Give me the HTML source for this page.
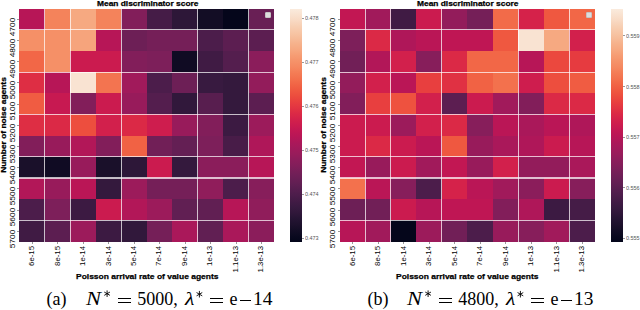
<!DOCTYPE html><html><head><meta charset="utf-8"><style>
html,body{margin:0;padding:0;background:#fff;}
body{width:640px;height:310px;position:relative;overflow:hidden;font-family:"Liberation Sans",sans-serif;}
.a{position:absolute;}
.t{position:absolute;white-space:nowrap;line-height:1;color:#000;}
.o{position:absolute;width:0;height:0;}
.r{position:absolute;left:0;top:0;white-space:nowrap;line-height:1;color:#000;transform-origin:0 0;}
.b{font-weight:bold;-webkit-text-stroke:0.25px #000;}
.s{font-family:"Liberation Serif",serif;}
</style></head><body>
<div class="a" style="left:19.30px;top:8.50px;width:25.87px;height:21.59px;background:#b71657;"></div>
<div class="a" style="left:44.77px;top:8.50px;width:25.87px;height:21.59px;background:#f4835b;"></div>
<div class="a" style="left:70.24px;top:8.50px;width:25.87px;height:21.59px;background:#f6a981;"></div>
<div class="a" style="left:95.71px;top:8.50px;width:25.87px;height:21.59px;background:#f4835b;"></div>
<div class="a" style="left:121.18px;top:8.50px;width:25.87px;height:21.59px;background:#821e5a;"></div>
<div class="a" style="left:146.65px;top:8.50px;width:25.87px;height:21.59px;background:#451c47;"></div>
<div class="a" style="left:172.12px;top:8.50px;width:25.87px;height:21.59px;background:#2d1738;"></div>
<div class="a" style="left:197.59px;top:8.50px;width:25.87px;height:21.59px;background:#130d25;"></div>
<div class="a" style="left:223.06px;top:8.50px;width:25.87px;height:21.59px;background:#05061b;"></div>
<div class="a" style="left:248.53px;top:8.50px;width:25.47px;height:21.59px;background:#691f55;"></div>
<div class="a" style="left:19.30px;top:29.69px;width:25.87px;height:21.59px;background:#f59067;"></div>
<div class="a" style="left:44.77px;top:29.69px;width:25.87px;height:21.59px;background:#f59067;"></div>
<div class="a" style="left:70.24px;top:29.69px;width:25.87px;height:21.59px;background:#f6a47c;"></div>
<div class="a" style="left:95.71px;top:29.69px;width:25.87px;height:21.59px;background:#b71657;"></div>
<div class="a" style="left:121.18px;top:29.69px;width:25.87px;height:21.59px;background:#6d1f56;"></div>
<div class="a" style="left:146.65px;top:29.69px;width:25.87px;height:21.59px;background:#751f58;"></div>
<div class="a" style="left:172.12px;top:29.69px;width:25.87px;height:21.59px;background:#751f58;"></div>
<div class="a" style="left:197.59px;top:29.69px;width:25.87px;height:21.59px;background:#4c1d4b;"></div>
<div class="a" style="left:223.06px;top:29.69px;width:25.87px;height:21.59px;background:#5c1e51;"></div>
<div class="a" style="left:248.53px;top:29.69px;width:25.47px;height:21.59px;background:#5c1e51;"></div>
<div class="a" style="left:19.30px;top:50.88px;width:25.87px;height:21.59px;background:#f26747;"></div>
<div class="a" style="left:44.77px;top:50.88px;width:25.87px;height:21.59px;background:#f59067;"></div>
<div class="a" style="left:70.24px;top:50.88px;width:25.87px;height:21.59px;background:#cb1b4f;"></div>
<div class="a" style="left:95.71px;top:50.88px;width:25.87px;height:21.59px;background:#cb1b4f;"></div>
<div class="a" style="left:121.18px;top:50.88px;width:25.87px;height:21.59px;background:#821e5a;"></div>
<div class="a" style="left:146.65px;top:50.88px;width:25.87px;height:21.59px;background:#7d1f5a;"></div>
<div class="a" style="left:172.12px;top:50.88px;width:25.87px;height:21.59px;background:#100b23;"></div>
<div class="a" style="left:197.59px;top:50.88px;width:25.87px;height:21.59px;background:#401b44;"></div>
<div class="a" style="left:223.06px;top:50.88px;width:25.87px;height:21.59px;background:#541e4e;"></div>
<div class="a" style="left:248.53px;top:50.88px;width:25.47px;height:21.59px;background:#8b1d5b;"></div>
<div class="a" style="left:19.30px;top:72.07px;width:25.87px;height:21.59px;background:#de2e44;"></div>
<div class="a" style="left:44.77px;top:72.07px;width:25.87px;height:21.59px;background:#b71657;"></div>
<div class="a" style="left:70.24px;top:72.07px;width:25.87px;height:21.59px;background:#f9e3d2;"></div>
<div class="a" style="left:95.71px;top:72.07px;width:25.87px;height:21.59px;background:#f37450;"></div>
<div class="a" style="left:121.18px;top:72.07px;width:25.87px;height:21.59px;background:#a11a5b;"></div>
<div class="a" style="left:146.65px;top:72.07px;width:25.87px;height:21.59px;background:#4c1d4b;"></div>
<div class="a" style="left:172.12px;top:72.07px;width:25.87px;height:21.59px;background:#6d1f56;"></div>
<div class="a" style="left:197.59px;top:72.07px;width:25.87px;height:21.59px;background:#381a40;"></div>
<div class="a" style="left:223.06px;top:72.07px;width:25.87px;height:21.59px;background:#34193d;"></div>
<div class="a" style="left:248.53px;top:72.07px;width:25.47px;height:21.59px;background:#931c5b;"></div>
<div class="a" style="left:19.30px;top:93.26px;width:25.87px;height:21.59px;background:#f05c42;"></div>
<div class="a" style="left:44.77px;top:93.26px;width:25.87px;height:21.59px;background:#c71951;"></div>
<div class="a" style="left:70.24px;top:93.26px;width:25.87px;height:21.59px;background:#821e5a;"></div>
<div class="a" style="left:95.71px;top:93.26px;width:25.87px;height:21.59px;background:#cb1b4f;"></div>
<div class="a" style="left:121.18px;top:93.26px;width:25.87px;height:21.59px;background:#981b5b;"></div>
<div class="a" style="left:146.65px;top:93.26px;width:25.87px;height:21.59px;background:#541e4e;"></div>
<div class="a" style="left:172.12px;top:93.26px;width:25.87px;height:21.59px;background:#31183b;"></div>
<div class="a" style="left:197.59px;top:93.26px;width:25.87px;height:21.59px;background:#581e4f;"></div>
<div class="a" style="left:223.06px;top:93.26px;width:25.87px;height:21.59px;background:#34193d;"></div>
<div class="a" style="left:248.53px;top:93.26px;width:25.47px;height:21.59px;background:#5c1e51;"></div>
<div class="a" style="left:19.30px;top:114.45px;width:25.87px;height:21.59px;background:#de2e44;"></div>
<div class="a" style="left:44.77px;top:114.45px;width:25.87px;height:21.59px;background:#db2946;"></div>
<div class="a" style="left:70.24px;top:114.45px;width:25.87px;height:21.59px;background:#ed4e3e;"></div>
<div class="a" style="left:95.71px;top:114.45px;width:25.87px;height:21.59px;background:#d2204c;"></div>
<div class="a" style="left:121.18px;top:114.45px;width:25.87px;height:21.59px;background:#db2946;"></div>
<div class="a" style="left:146.65px;top:114.45px;width:25.87px;height:21.59px;background:#ce1d4e;"></div>
<div class="a" style="left:172.12px;top:114.45px;width:25.87px;height:21.59px;background:#981b5b;"></div>
<div class="a" style="left:197.59px;top:114.45px;width:25.87px;height:21.59px;background:#821e5a;"></div>
<div class="a" style="left:223.06px;top:114.45px;width:25.87px;height:21.59px;background:#3c1a42;"></div>
<div class="a" style="left:248.53px;top:114.45px;width:25.47px;height:21.59px;background:#9c1b5b;"></div>
<div class="a" style="left:19.30px;top:135.65px;width:25.87px;height:21.59px;background:#821e5a;"></div>
<div class="a" style="left:44.77px;top:135.65px;width:25.87px;height:21.59px;background:#981b5b;"></div>
<div class="a" style="left:70.24px;top:135.65px;width:25.87px;height:21.59px;background:#b21758;"></div>
<div class="a" style="left:95.71px;top:135.65px;width:25.87px;height:21.59px;background:#821e5a;"></div>
<div class="a" style="left:121.18px;top:135.65px;width:25.87px;height:21.59px;background:#f16244;"></div>
<div class="a" style="left:146.65px;top:135.65px;width:25.87px;height:21.59px;background:#711f57;"></div>
<div class="a" style="left:172.12px;top:135.65px;width:25.87px;height:21.59px;background:#641f54;"></div>
<div class="a" style="left:197.59px;top:135.65px;width:25.87px;height:21.59px;background:#7d1f5a;"></div>
<div class="a" style="left:223.06px;top:135.65px;width:25.87px;height:21.59px;background:#481c48;"></div>
<div class="a" style="left:248.53px;top:135.65px;width:25.47px;height:21.59px;background:#af1759;"></div>
<div class="a" style="left:19.30px;top:156.84px;width:25.87px;height:21.59px;background:#1a102a;"></div>
<div class="a" style="left:44.77px;top:156.84px;width:25.87px;height:21.59px;background:#100b23;"></div>
<div class="a" style="left:70.24px;top:156.84px;width:25.87px;height:21.59px;background:#981b5b;"></div>
<div class="a" style="left:95.71px;top:156.84px;width:25.87px;height:21.59px;background:#1a102a;"></div>
<div class="a" style="left:121.18px;top:156.84px;width:25.87px;height:21.59px;background:#2d1738;"></div>
<div class="a" style="left:146.65px;top:156.84px;width:25.87px;height:21.59px;background:#cb1b4f;"></div>
<div class="a" style="left:172.12px;top:156.84px;width:25.87px;height:21.59px;background:#34193d;"></div>
<div class="a" style="left:197.59px;top:156.84px;width:25.87px;height:21.59px;background:#8b1d5b;"></div>
<div class="a" style="left:223.06px;top:156.84px;width:25.87px;height:21.59px;background:#8b1d5b;"></div>
<div class="a" style="left:248.53px;top:156.84px;width:25.47px;height:21.59px;background:#b71657;"></div>
<div class="a" style="left:19.30px;top:178.03px;width:25.87px;height:21.59px;background:#b21758;"></div>
<div class="a" style="left:44.77px;top:178.03px;width:25.87px;height:21.59px;background:#981b5b;"></div>
<div class="a" style="left:70.24px;top:178.03px;width:25.87px;height:21.59px;background:#ba1656;"></div>
<div class="a" style="left:95.71px;top:178.03px;width:25.87px;height:21.59px;background:#34193d;"></div>
<div class="a" style="left:121.18px;top:178.03px;width:25.87px;height:21.59px;background:#9c1b5b;"></div>
<div class="a" style="left:146.65px;top:178.03px;width:25.87px;height:21.59px;background:#751f58;"></div>
<div class="a" style="left:172.12px;top:178.03px;width:25.87px;height:21.59px;background:#751f58;"></div>
<div class="a" style="left:197.59px;top:178.03px;width:25.87px;height:21.59px;background:#901d5b;"></div>
<div class="a" style="left:223.06px;top:178.03px;width:25.87px;height:21.59px;background:#4c1d4b;"></div>
<div class="a" style="left:248.53px;top:178.03px;width:25.47px;height:21.59px;background:#871e5b;"></div>
<div class="a" style="left:19.30px;top:199.22px;width:25.87px;height:21.59px;background:#4c1d4b;"></div>
<div class="a" style="left:44.77px;top:199.22px;width:25.87px;height:21.59px;background:#7d1f5a;"></div>
<div class="a" style="left:70.24px;top:199.22px;width:25.87px;height:21.59px;background:#3c1a42;"></div>
<div class="a" style="left:95.71px;top:199.22px;width:25.87px;height:21.59px;background:#cb1b4f;"></div>
<div class="a" style="left:121.18px;top:199.22px;width:25.87px;height:21.59px;background:#b21758;"></div>
<div class="a" style="left:146.65px;top:199.22px;width:25.87px;height:21.59px;background:#9c1b5b;"></div>
<div class="a" style="left:172.12px;top:199.22px;width:25.87px;height:21.59px;background:#611f53;"></div>
<div class="a" style="left:197.59px;top:199.22px;width:25.87px;height:21.59px;background:#611f53;"></div>
<div class="a" style="left:223.06px;top:199.22px;width:25.87px;height:21.59px;background:#b71657;"></div>
<div class="a" style="left:248.53px;top:199.22px;width:25.47px;height:21.59px;background:#901d5b;"></div>
<div class="a" style="left:19.30px;top:220.41px;width:25.87px;height:21.19px;background:#401b44;"></div>
<div class="a" style="left:44.77px;top:220.41px;width:25.87px;height:21.19px;background:#5c1e51;"></div>
<div class="a" style="left:70.24px;top:220.41px;width:25.87px;height:21.19px;background:#9c1b5b;"></div>
<div class="a" style="left:95.71px;top:220.41px;width:25.87px;height:21.19px;background:#3c1a42;"></div>
<div class="a" style="left:121.18px;top:220.41px;width:25.87px;height:21.19px;background:#31183b;"></div>
<div class="a" style="left:146.65px;top:220.41px;width:25.87px;height:21.19px;background:#751f58;"></div>
<div class="a" style="left:172.12px;top:220.41px;width:25.87px;height:21.19px;background:#aa185a;"></div>
<div class="a" style="left:197.59px;top:220.41px;width:25.87px;height:21.19px;background:#611f53;"></div>
<div class="a" style="left:223.06px;top:220.41px;width:25.87px;height:21.19px;background:#aa185a;"></div>
<div class="a" style="left:248.53px;top:220.41px;width:25.47px;height:21.19px;background:#8b1d5b;"></div>
<div class="a" style="left:44.22px;top:8.50px;width:1.10px;height:233.10px;background:rgba(255,255,255,0.72);"></div>
<div class="a" style="left:69.69px;top:8.50px;width:1.10px;height:233.10px;background:rgba(255,255,255,0.72);"></div>
<div class="a" style="left:120.63px;top:8.50px;width:1.10px;height:233.10px;background:rgba(255,255,255,0.72);"></div>
<div class="a" style="left:197.04px;top:8.50px;width:1.10px;height:233.10px;background:rgba(255,255,255,0.72);"></div>
<div class="a" style="left:247.98px;top:8.50px;width:1.10px;height:233.10px;background:rgba(255,255,255,0.72);"></div>
<div class="a" style="left:19.30px;top:29.14px;width:254.70px;height:1.10px;background:rgba(255,255,255,0.72);"></div>
<div class="a" style="left:19.30px;top:71.52px;width:254.70px;height:1.10px;background:rgba(255,255,255,0.72);"></div>
<div class="a" style="left:19.30px;top:113.90px;width:254.70px;height:1.10px;background:rgba(255,255,255,0.72);"></div>
<div class="a" style="left:19.30px;top:156.29px;width:254.70px;height:1.10px;background:rgba(255,255,255,0.72);"></div>
<div class="a" style="left:19.30px;top:177.48px;width:254.70px;height:1.10px;background:rgba(255,255,255,0.72);"></div>
<div class="a" style="left:19.30px;top:219.86px;width:254.70px;height:1.10px;background:rgba(255,255,255,0.72);"></div>
<div class="a" style="left:265.10px;top:11.90px;width:6.00px;height:6.40px;background:#dddddd;border-radius:1px;box-sizing:border-box;border:0.6px solid #c4c4c4"></div>
<div class="a" style="left:290.30px;top:8.50px;width:11.70px;height:233.10px;background:linear-gradient(to bottom,#faebdd 0.0%,#f9e2d0 2.5%,#f8d9c3 5.0%,#f7cfb3 7.5%,#f7c6a6 10.0%,#f6bc99 12.5%,#f6b18b 15.0%,#f6a880 17.5%,#f69c73 20.0%,#f59269 22.5%,#f58860 25.0%,#f47c55 27.5%,#f3714d 30.0%,#f16445 32.5%,#ef5840 35.0%,#ec4c3e 37.5%,#e83f3f 40.0%,#e23442 42.5%,#db2946 45.0%,#d3214b 47.5%,#cb1b4f 50.0%,#c11754 52.5%,#b71657 55.0%,#ab185a 57.5%,#a11a5b 60.0%,#971c5b 62.5%,#8b1d5b 65.0%,#811e5a 67.5%,#751f58 70.0%,#6b1f56 72.5%,#611f53 75.0%,#561e4f 77.5%,#4c1d4b 80.0%,#421b45 82.5%,#381a40 85.0%,#30173a 87.5%,#251433 90.0%,#1d112c 92.5%,#130d25 95.0%,#0a091f 97.5%,#03051a 100.0%);"></div>
<div class="a" style="left:302.00px;top:17.70px;width:2.00px;height:0.60px;background:#999;"></div>
<div class="t " style="left:305.20px;top:16.19px;font-size:5.20px;color:#555;transform:scaleX(1.050);transform-origin:0 0">0.478</div>
<div class="a" style="left:302.00px;top:61.70px;width:2.00px;height:0.60px;background:#999;"></div>
<div class="t " style="left:305.20px;top:60.19px;font-size:5.20px;color:#555;transform:scaleX(1.050);transform-origin:0 0">0.477</div>
<div class="a" style="left:302.00px;top:105.70px;width:2.00px;height:0.60px;background:#999;"></div>
<div class="t " style="left:305.20px;top:104.19px;font-size:5.20px;color:#555;transform:scaleX(1.050);transform-origin:0 0">0.476</div>
<div class="a" style="left:302.00px;top:149.70px;width:2.00px;height:0.60px;background:#999;"></div>
<div class="t " style="left:305.20px;top:148.19px;font-size:5.20px;color:#555;transform:scaleX(1.050);transform-origin:0 0">0.475</div>
<div class="a" style="left:302.00px;top:193.70px;width:2.00px;height:0.60px;background:#999;"></div>
<div class="t " style="left:305.20px;top:192.19px;font-size:5.20px;color:#555;transform:scaleX(1.050);transform-origin:0 0">0.474</div>
<div class="a" style="left:302.00px;top:237.70px;width:2.00px;height:0.60px;background:#999;"></div>
<div class="t " style="left:305.20px;top:236.19px;font-size:5.20px;color:#555;transform:scaleX(1.050);transform-origin:0 0">0.473</div>
<div class="a" style="left:17.30px;top:18.80px;width:2.00px;height:0.60px;background:#999;"></div>
<div class="o" style="left:8.57px;top:26.70px"><div class="r " style="font-size:7.60px;color:#000;transform:rotate(-90deg) scaleX(1.100) translateX(-50%)">4700</div></div>
<div class="a" style="left:17.30px;top:39.99px;width:2.00px;height:0.60px;background:#999;"></div>
<div class="o" style="left:8.57px;top:47.89px"><div class="r " style="font-size:7.60px;color:#000;transform:rotate(-90deg) scaleX(1.100) translateX(-50%)">4800</div></div>
<div class="a" style="left:17.30px;top:61.18px;width:2.00px;height:0.60px;background:#999;"></div>
<div class="o" style="left:8.57px;top:69.08px"><div class="r " style="font-size:7.60px;color:#000;transform:rotate(-90deg) scaleX(1.100) translateX(-50%)">4900</div></div>
<div class="a" style="left:17.30px;top:82.37px;width:2.00px;height:0.60px;background:#999;"></div>
<div class="o" style="left:8.57px;top:90.27px"><div class="r " style="font-size:7.60px;color:#000;transform:rotate(-90deg) scaleX(1.100) translateX(-50%)">5000</div></div>
<div class="a" style="left:17.30px;top:103.56px;width:2.00px;height:0.60px;background:#999;"></div>
<div class="o" style="left:8.57px;top:111.46px"><div class="r " style="font-size:7.60px;color:#000;transform:rotate(-90deg) scaleX(1.100) translateX(-50%)">5100</div></div>
<div class="a" style="left:17.30px;top:124.75px;width:2.00px;height:0.60px;background:#999;"></div>
<div class="o" style="left:8.57px;top:132.65px"><div class="r " style="font-size:7.60px;color:#000;transform:rotate(-90deg) scaleX(1.100) translateX(-50%)">5200</div></div>
<div class="a" style="left:17.30px;top:145.94px;width:2.00px;height:0.60px;background:#999;"></div>
<div class="o" style="left:8.57px;top:153.84px"><div class="r " style="font-size:7.60px;color:#000;transform:rotate(-90deg) scaleX(1.100) translateX(-50%)">5300</div></div>
<div class="a" style="left:17.30px;top:167.13px;width:2.00px;height:0.60px;background:#999;"></div>
<div class="o" style="left:8.57px;top:175.03px"><div class="r " style="font-size:7.60px;color:#000;transform:rotate(-90deg) scaleX(1.100) translateX(-50%)">5400</div></div>
<div class="a" style="left:17.30px;top:188.32px;width:2.00px;height:0.60px;background:#999;"></div>
<div class="o" style="left:8.57px;top:196.22px"><div class="r " style="font-size:7.60px;color:#000;transform:rotate(-90deg) scaleX(1.100) translateX(-50%)">5500</div></div>
<div class="a" style="left:17.30px;top:209.51px;width:2.00px;height:0.60px;background:#999;"></div>
<div class="o" style="left:8.57px;top:217.41px"><div class="r " style="font-size:7.60px;color:#000;transform:rotate(-90deg) scaleX(1.100) translateX(-50%)">5600</div></div>
<div class="a" style="left:17.30px;top:230.70px;width:2.00px;height:0.60px;background:#999;"></div>
<div class="o" style="left:8.57px;top:238.60px"><div class="r " style="font-size:7.60px;color:#000;transform:rotate(-90deg) scaleX(1.100) translateX(-50%)">5700</div></div>
<div class="a" style="left:31.73px;top:241.60px;width:0.60px;height:2.00px;background:#999;"></div>
<div class="o" style="left:28.12px;top:246.40px"><div class="r " style="font-size:7.80px;color:#000;transform:rotate(-90deg) scaleX(1.000) translateX(-100%)">6e-15</div></div>
<div class="a" style="left:57.20px;top:241.60px;width:0.60px;height:2.00px;background:#999;"></div>
<div class="o" style="left:53.59px;top:246.40px"><div class="r " style="font-size:7.80px;color:#000;transform:rotate(-90deg) scaleX(1.000) translateX(-100%)">8e-15</div></div>
<div class="a" style="left:82.67px;top:241.60px;width:0.60px;height:2.00px;background:#999;"></div>
<div class="o" style="left:79.06px;top:246.40px"><div class="r " style="font-size:7.80px;color:#000;transform:rotate(-90deg) scaleX(1.000) translateX(-100%)">1e-14</div></div>
<div class="a" style="left:108.14px;top:241.60px;width:0.60px;height:2.00px;background:#999;"></div>
<div class="o" style="left:104.53px;top:246.40px"><div class="r " style="font-size:7.80px;color:#000;transform:rotate(-90deg) scaleX(1.000) translateX(-100%)">3e-14</div></div>
<div class="a" style="left:133.61px;top:241.60px;width:0.60px;height:2.00px;background:#999;"></div>
<div class="o" style="left:130.00px;top:246.40px"><div class="r " style="font-size:7.80px;color:#000;transform:rotate(-90deg) scaleX(1.000) translateX(-100%)">5e-14</div></div>
<div class="a" style="left:159.08px;top:241.60px;width:0.60px;height:2.00px;background:#999;"></div>
<div class="o" style="left:155.47px;top:246.40px"><div class="r " style="font-size:7.80px;color:#000;transform:rotate(-90deg) scaleX(1.000) translateX(-100%)">7e-14</div></div>
<div class="a" style="left:184.56px;top:241.60px;width:0.60px;height:2.00px;background:#999;"></div>
<div class="o" style="left:180.94px;top:246.40px"><div class="r " style="font-size:7.80px;color:#000;transform:rotate(-90deg) scaleX(1.000) translateX(-100%)">9e-14</div></div>
<div class="a" style="left:210.02px;top:241.60px;width:0.60px;height:2.00px;background:#999;"></div>
<div class="o" style="left:206.41px;top:246.40px"><div class="r " style="font-size:7.80px;color:#000;transform:rotate(-90deg) scaleX(1.000) translateX(-100%)">1e-13</div></div>
<div class="a" style="left:235.50px;top:241.60px;width:0.60px;height:2.00px;background:#999;"></div>
<div class="o" style="left:231.88px;top:246.40px"><div class="r " style="font-size:7.80px;color:#000;transform:rotate(-90deg) scaleX(1.000) translateX(-100%)">1.1e-13</div></div>
<div class="a" style="left:260.96px;top:241.60px;width:0.60px;height:2.00px;background:#999;"></div>
<div class="o" style="left:257.35px;top:246.40px"><div class="r " style="font-size:7.80px;color:#000;transform:rotate(-90deg) scaleX(1.000) translateX(-100%)">1.3e-13</div></div>
<div class="t b" style="left:96.50px;top:-0.45px;font-size:7.50px;transform:scaleX(1.116);transform-origin:0 0">Mean discriminator score</div>
<div class="t b" style="left:75.60px;top:273.45px;font-size:7.50px;transform:scaleX(1.128);transform-origin:0 0">Poisson arrival rate of value agents</div>
<div class="o" style="left:-0.45px;top:124.65px"><div class="r b" style="font-size:7.50px;color:#000;transform:rotate(-90deg) scaleX(1.120) translateX(-50%)">Number of noise agents</div></div>
<div class="a" style="left:340.00px;top:8.50px;width:25.87px;height:21.59px;background:#c21753;"></div>
<div class="a" style="left:365.47px;top:8.50px;width:25.87px;height:21.59px;background:#a11a5b;"></div>
<div class="a" style="left:390.94px;top:8.50px;width:25.87px;height:21.59px;background:#401b44;"></div>
<div class="a" style="left:416.41px;top:8.50px;width:25.87px;height:21.59px;background:#cb1b4f;"></div>
<div class="a" style="left:441.88px;top:8.50px;width:25.87px;height:21.59px;background:#931c5b;"></div>
<div class="a" style="left:467.35px;top:8.50px;width:25.87px;height:21.59px;background:#751f58;"></div>
<div class="a" style="left:492.82px;top:8.50px;width:25.87px;height:21.59px;background:#f26b49;"></div>
<div class="a" style="left:518.29px;top:8.50px;width:25.87px;height:21.59px;background:#d5224a;"></div>
<div class="a" style="left:543.76px;top:8.50px;width:25.87px;height:21.59px;background:#ef5840;"></div>
<div class="a" style="left:569.23px;top:8.50px;width:25.47px;height:21.59px;background:#f26747;"></div>
<div class="a" style="left:340.00px;top:29.69px;width:25.87px;height:21.59px;background:#7d1f5a;"></div>
<div class="a" style="left:365.47px;top:29.69px;width:25.87px;height:21.59px;background:#db2946;"></div>
<div class="a" style="left:390.94px;top:29.69px;width:25.87px;height:21.59px;background:#af1759;"></div>
<div class="a" style="left:416.41px;top:29.69px;width:25.87px;height:21.59px;background:#ba1656;"></div>
<div class="a" style="left:441.88px;top:29.69px;width:25.87px;height:21.59px;background:#bf1654;"></div>
<div class="a" style="left:467.35px;top:29.69px;width:25.87px;height:21.59px;background:#bf1654;"></div>
<div class="a" style="left:492.82px;top:29.69px;width:25.87px;height:21.59px;background:#ef5840;"></div>
<div class="a" style="left:518.29px;top:29.69px;width:25.87px;height:21.59px;background:#f9e3d2;"></div>
<div class="a" style="left:543.76px;top:29.69px;width:25.87px;height:21.59px;background:#f6a981;"></div>
<div class="a" style="left:569.23px;top:29.69px;width:25.47px;height:21.59px;background:#d2204c;"></div>
<div class="a" style="left:340.00px;top:50.88px;width:25.87px;height:21.59px;background:#711f57;"></div>
<div class="a" style="left:365.47px;top:50.88px;width:25.87px;height:21.59px;background:#b21758;"></div>
<div class="a" style="left:390.94px;top:50.88px;width:25.87px;height:21.59px;background:#d2204c;"></div>
<div class="a" style="left:416.41px;top:50.88px;width:25.87px;height:21.59px;background:#871e5b;"></div>
<div class="a" style="left:441.88px;top:50.88px;width:25.87px;height:21.59px;background:#db2946;"></div>
<div class="a" style="left:467.35px;top:50.88px;width:25.87px;height:21.59px;background:#f26747;"></div>
<div class="a" style="left:492.82px;top:50.88px;width:25.87px;height:21.59px;background:#f26747;"></div>
<div class="a" style="left:518.29px;top:50.88px;width:25.87px;height:21.59px;background:#b71657;"></div>
<div class="a" style="left:543.76px;top:50.88px;width:25.87px;height:21.59px;background:#eb483e;"></div>
<div class="a" style="left:569.23px;top:50.88px;width:25.47px;height:21.59px;background:#e63b40;"></div>
<div class="a" style="left:340.00px;top:72.07px;width:25.87px;height:21.59px;background:#931c5b;"></div>
<div class="a" style="left:365.47px;top:72.07px;width:25.87px;height:21.59px;background:#d2204c;"></div>
<div class="a" style="left:390.94px;top:72.07px;width:25.87px;height:21.59px;background:#ba1656;"></div>
<div class="a" style="left:416.41px;top:72.07px;width:25.87px;height:21.59px;background:#e83f3f;"></div>
<div class="a" style="left:441.88px;top:72.07px;width:25.87px;height:21.59px;background:#e03143;"></div>
<div class="a" style="left:467.35px;top:72.07px;width:25.87px;height:21.59px;background:#f16244;"></div>
<div class="a" style="left:492.82px;top:72.07px;width:25.87px;height:21.59px;background:#f3714d;"></div>
<div class="a" style="left:518.29px;top:72.07px;width:25.87px;height:21.59px;background:#ce1d4e;"></div>
<div class="a" style="left:543.76px;top:72.07px;width:25.87px;height:21.59px;background:#ed4e3e;"></div>
<div class="a" style="left:569.23px;top:72.07px;width:25.47px;height:21.59px;background:#f05c42;"></div>
<div class="a" style="left:340.00px;top:93.26px;width:25.87px;height:21.59px;background:#821e5a;"></div>
<div class="a" style="left:365.47px;top:93.26px;width:25.87px;height:21.59px;background:#e83f3f;"></div>
<div class="a" style="left:390.94px;top:93.26px;width:25.87px;height:21.59px;background:#ee523f;"></div>
<div class="a" style="left:416.41px;top:93.26px;width:25.87px;height:21.59px;background:#d2204c;"></div>
<div class="a" style="left:441.88px;top:93.26px;width:25.87px;height:21.59px;background:#5c1e51;"></div>
<div class="a" style="left:467.35px;top:93.26px;width:25.87px;height:21.59px;background:#cb1b4f;"></div>
<div class="a" style="left:492.82px;top:93.26px;width:25.87px;height:21.59px;background:#a11a5b;"></div>
<div class="a" style="left:518.29px;top:93.26px;width:25.87px;height:21.59px;background:#821e5a;"></div>
<div class="a" style="left:543.76px;top:93.26px;width:25.87px;height:21.59px;background:#db2946;"></div>
<div class="a" style="left:569.23px;top:93.26px;width:25.47px;height:21.59px;background:#db2946;"></div>
<div class="a" style="left:340.00px;top:114.45px;width:25.87px;height:21.59px;background:#cb1b4f;"></div>
<div class="a" style="left:365.47px;top:114.45px;width:25.87px;height:21.59px;background:#cb1b4f;"></div>
<div class="a" style="left:390.94px;top:114.45px;width:25.87px;height:21.59px;background:#9c1b5b;"></div>
<div class="a" style="left:416.41px;top:114.45px;width:25.87px;height:21.59px;background:#d2204c;"></div>
<div class="a" style="left:441.88px;top:114.45px;width:25.87px;height:21.59px;background:#db2946;"></div>
<div class="a" style="left:467.35px;top:114.45px;width:25.87px;height:21.59px;background:#871e5b;"></div>
<div class="a" style="left:492.82px;top:114.45px;width:25.87px;height:21.59px;background:#ba1656;"></div>
<div class="a" style="left:518.29px;top:114.45px;width:25.87px;height:21.59px;background:#aa185a;"></div>
<div class="a" style="left:543.76px;top:114.45px;width:25.87px;height:21.59px;background:#ba1656;"></div>
<div class="a" style="left:569.23px;top:114.45px;width:25.47px;height:21.59px;background:#af1759;"></div>
<div class="a" style="left:340.00px;top:135.65px;width:25.87px;height:21.59px;background:#cb1b4f;"></div>
<div class="a" style="left:365.47px;top:135.65px;width:25.87px;height:21.59px;background:#db2946;"></div>
<div class="a" style="left:390.94px;top:135.65px;width:25.87px;height:21.59px;background:#cb1b4f;"></div>
<div class="a" style="left:416.41px;top:135.65px;width:25.87px;height:21.59px;background:#ba1656;"></div>
<div class="a" style="left:441.88px;top:135.65px;width:25.87px;height:21.59px;background:#ef5840;"></div>
<div class="a" style="left:467.35px;top:135.65px;width:25.87px;height:21.59px;background:#981b5b;"></div>
<div class="a" style="left:492.82px;top:135.65px;width:25.87px;height:21.59px;background:#aa185a;"></div>
<div class="a" style="left:518.29px;top:135.65px;width:25.87px;height:21.59px;background:#af1759;"></div>
<div class="a" style="left:543.76px;top:135.65px;width:25.87px;height:21.59px;background:#cb1b4f;"></div>
<div class="a" style="left:569.23px;top:135.65px;width:25.47px;height:21.59px;background:#b71657;"></div>
<div class="a" style="left:340.00px;top:156.84px;width:25.87px;height:21.59px;background:#c21753;"></div>
<div class="a" style="left:365.47px;top:156.84px;width:25.87px;height:21.59px;background:#981b5b;"></div>
<div class="a" style="left:390.94px;top:156.84px;width:25.87px;height:21.59px;background:#cb1b4f;"></div>
<div class="a" style="left:416.41px;top:156.84px;width:25.87px;height:21.59px;background:#a11a5b;"></div>
<div class="a" style="left:441.88px;top:156.84px;width:25.87px;height:21.59px;background:#c21753;"></div>
<div class="a" style="left:467.35px;top:156.84px;width:25.87px;height:21.59px;background:#981b5b;"></div>
<div class="a" style="left:492.82px;top:156.84px;width:25.87px;height:21.59px;background:#d2204c;"></div>
<div class="a" style="left:518.29px;top:156.84px;width:25.87px;height:21.59px;background:#931c5b;"></div>
<div class="a" style="left:543.76px;top:156.84px;width:25.87px;height:21.59px;background:#931c5b;"></div>
<div class="a" style="left:569.23px;top:156.84px;width:25.47px;height:21.59px;background:#aa185a;"></div>
<div class="a" style="left:340.00px;top:178.03px;width:25.87px;height:21.59px;background:#f3714d;"></div>
<div class="a" style="left:365.47px;top:178.03px;width:25.87px;height:21.59px;background:#ba1656;"></div>
<div class="a" style="left:390.94px;top:178.03px;width:25.87px;height:21.59px;background:#871e5b;"></div>
<div class="a" style="left:416.41px;top:178.03px;width:25.87px;height:21.59px;background:#4c1d4b;"></div>
<div class="a" style="left:441.88px;top:178.03px;width:25.87px;height:21.59px;background:#d5224a;"></div>
<div class="a" style="left:467.35px;top:178.03px;width:25.87px;height:21.59px;background:#ba1656;"></div>
<div class="a" style="left:492.82px;top:178.03px;width:25.87px;height:21.59px;background:#a11a5b;"></div>
<div class="a" style="left:518.29px;top:178.03px;width:25.87px;height:21.59px;background:#8b1d5b;"></div>
<div class="a" style="left:543.76px;top:178.03px;width:25.87px;height:21.59px;background:#cb1b4f;"></div>
<div class="a" style="left:569.23px;top:178.03px;width:25.47px;height:21.59px;background:#871e5b;"></div>
<div class="a" style="left:340.00px;top:199.22px;width:25.87px;height:21.59px;background:#6d1f56;"></div>
<div class="a" style="left:365.47px;top:199.22px;width:25.87px;height:21.59px;background:#711f57;"></div>
<div class="a" style="left:390.94px;top:199.22px;width:25.87px;height:21.59px;background:#cb1b4f;"></div>
<div class="a" style="left:416.41px;top:199.22px;width:25.87px;height:21.59px;background:#b71657;"></div>
<div class="a" style="left:441.88px;top:199.22px;width:25.87px;height:21.59px;background:#bf1654;"></div>
<div class="a" style="left:467.35px;top:199.22px;width:25.87px;height:21.59px;background:#bf1654;"></div>
<div class="a" style="left:492.82px;top:199.22px;width:25.87px;height:21.59px;background:#821e5a;"></div>
<div class="a" style="left:518.29px;top:199.22px;width:25.87px;height:21.59px;background:#af1759;"></div>
<div class="a" style="left:543.76px;top:199.22px;width:25.87px;height:21.59px;background:#3c1a42;"></div>
<div class="a" style="left:569.23px;top:199.22px;width:25.47px;height:21.59px;background:#451c47;"></div>
<div class="a" style="left:340.00px;top:220.41px;width:25.87px;height:21.19px;background:#b71657;"></div>
<div class="a" style="left:365.47px;top:220.41px;width:25.87px;height:21.19px;background:#a11a5b;"></div>
<div class="a" style="left:390.94px;top:220.41px;width:25.87px;height:21.19px;background:#05061b;"></div>
<div class="a" style="left:416.41px;top:220.41px;width:25.87px;height:21.19px;background:#9c1b5b;"></div>
<div class="a" style="left:441.88px;top:220.41px;width:25.87px;height:21.19px;background:#711f57;"></div>
<div class="a" style="left:467.35px;top:220.41px;width:25.87px;height:21.19px;background:#4c1d4b;"></div>
<div class="a" style="left:492.82px;top:220.41px;width:25.87px;height:21.19px;background:#981b5b;"></div>
<div class="a" style="left:518.29px;top:220.41px;width:25.87px;height:21.19px;background:#871e5b;"></div>
<div class="a" style="left:543.76px;top:220.41px;width:25.87px;height:21.19px;background:#a11a5b;"></div>
<div class="a" style="left:569.23px;top:220.41px;width:25.47px;height:21.19px;background:#4c1d4b;"></div>
<div class="a" style="left:364.92px;top:8.50px;width:1.10px;height:233.10px;background:rgba(255,255,255,0.72);"></div>
<div class="a" style="left:390.39px;top:8.50px;width:1.10px;height:233.10px;background:rgba(255,255,255,0.72);"></div>
<div class="a" style="left:441.33px;top:8.50px;width:1.10px;height:233.10px;background:rgba(255,255,255,0.72);"></div>
<div class="a" style="left:517.74px;top:8.50px;width:1.10px;height:233.10px;background:rgba(255,255,255,0.72);"></div>
<div class="a" style="left:568.68px;top:8.50px;width:1.10px;height:233.10px;background:rgba(255,255,255,0.72);"></div>
<div class="a" style="left:340.00px;top:29.14px;width:254.70px;height:1.10px;background:rgba(255,255,255,0.72);"></div>
<div class="a" style="left:340.00px;top:71.52px;width:254.70px;height:1.10px;background:rgba(255,255,255,0.72);"></div>
<div class="a" style="left:340.00px;top:113.90px;width:254.70px;height:1.10px;background:rgba(255,255,255,0.72);"></div>
<div class="a" style="left:340.00px;top:156.29px;width:254.70px;height:1.10px;background:rgba(255,255,255,0.72);"></div>
<div class="a" style="left:340.00px;top:177.48px;width:254.70px;height:1.10px;background:rgba(255,255,255,0.72);"></div>
<div class="a" style="left:340.00px;top:219.86px;width:254.70px;height:1.10px;background:rgba(255,255,255,0.72);"></div>
<div class="a" style="left:585.80px;top:11.90px;width:6.00px;height:6.40px;background:#dddddd;border-radius:1px;box-sizing:border-box;border:0.6px solid #c4c4c4"></div>
<div class="a" style="left:611.00px;top:8.50px;width:11.70px;height:233.10px;background:linear-gradient(to bottom,#faebdd 0.0%,#f9e2d0 2.5%,#f8d9c3 5.0%,#f7cfb3 7.5%,#f7c6a6 10.0%,#f6bc99 12.5%,#f6b18b 15.0%,#f6a880 17.5%,#f69c73 20.0%,#f59269 22.5%,#f58860 25.0%,#f47c55 27.5%,#f3714d 30.0%,#f16445 32.5%,#ef5840 35.0%,#ec4c3e 37.5%,#e83f3f 40.0%,#e23442 42.5%,#db2946 45.0%,#d3214b 47.5%,#cb1b4f 50.0%,#c11754 52.5%,#b71657 55.0%,#ab185a 57.5%,#a11a5b 60.0%,#971c5b 62.5%,#8b1d5b 65.0%,#811e5a 67.5%,#751f58 70.0%,#6b1f56 72.5%,#611f53 75.0%,#561e4f 77.5%,#4c1d4b 80.0%,#421b45 82.5%,#381a40 85.0%,#30173a 87.5%,#251433 90.0%,#1d112c 92.5%,#130d25 95.0%,#0a091f 97.5%,#03051a 100.0%);"></div>
<div class="a" style="left:622.70px;top:35.20px;width:2.00px;height:0.60px;background:#999;"></div>
<div class="t " style="left:625.90px;top:33.69px;font-size:5.20px;color:#555;transform:scaleX(1.050);transform-origin:0 0">0.559</div>
<div class="a" style="left:622.70px;top:86.40px;width:2.00px;height:0.60px;background:#999;"></div>
<div class="t " style="left:625.90px;top:84.89px;font-size:5.20px;color:#555;transform:scaleX(1.050);transform-origin:0 0">0.558</div>
<div class="a" style="left:622.70px;top:136.70px;width:2.00px;height:0.60px;background:#999;"></div>
<div class="t " style="left:625.90px;top:135.19px;font-size:5.20px;color:#555;transform:scaleX(1.050);transform-origin:0 0">0.557</div>
<div class="a" style="left:622.70px;top:187.40px;width:2.00px;height:0.60px;background:#999;"></div>
<div class="t " style="left:625.90px;top:185.89px;font-size:5.20px;color:#555;transform:scaleX(1.050);transform-origin:0 0">0.556</div>
<div class="a" style="left:622.70px;top:237.70px;width:2.00px;height:0.60px;background:#999;"></div>
<div class="t " style="left:625.90px;top:236.19px;font-size:5.20px;color:#555;transform:scaleX(1.050);transform-origin:0 0">0.555</div>
<div class="a" style="left:338.00px;top:18.80px;width:2.00px;height:0.60px;background:#999;"></div>
<div class="o" style="left:329.27px;top:26.70px"><div class="r " style="font-size:7.60px;color:#000;transform:rotate(-90deg) scaleX(1.100) translateX(-50%)">4700</div></div>
<div class="a" style="left:338.00px;top:39.99px;width:2.00px;height:0.60px;background:#999;"></div>
<div class="o" style="left:329.27px;top:47.89px"><div class="r " style="font-size:7.60px;color:#000;transform:rotate(-90deg) scaleX(1.100) translateX(-50%)">4800</div></div>
<div class="a" style="left:338.00px;top:61.18px;width:2.00px;height:0.60px;background:#999;"></div>
<div class="o" style="left:329.27px;top:69.08px"><div class="r " style="font-size:7.60px;color:#000;transform:rotate(-90deg) scaleX(1.100) translateX(-50%)">4900</div></div>
<div class="a" style="left:338.00px;top:82.37px;width:2.00px;height:0.60px;background:#999;"></div>
<div class="o" style="left:329.27px;top:90.27px"><div class="r " style="font-size:7.60px;color:#000;transform:rotate(-90deg) scaleX(1.100) translateX(-50%)">5000</div></div>
<div class="a" style="left:338.00px;top:103.56px;width:2.00px;height:0.60px;background:#999;"></div>
<div class="o" style="left:329.27px;top:111.46px"><div class="r " style="font-size:7.60px;color:#000;transform:rotate(-90deg) scaleX(1.100) translateX(-50%)">5100</div></div>
<div class="a" style="left:338.00px;top:124.75px;width:2.00px;height:0.60px;background:#999;"></div>
<div class="o" style="left:329.27px;top:132.65px"><div class="r " style="font-size:7.60px;color:#000;transform:rotate(-90deg) scaleX(1.100) translateX(-50%)">5200</div></div>
<div class="a" style="left:338.00px;top:145.94px;width:2.00px;height:0.60px;background:#999;"></div>
<div class="o" style="left:329.27px;top:153.84px"><div class="r " style="font-size:7.60px;color:#000;transform:rotate(-90deg) scaleX(1.100) translateX(-50%)">5300</div></div>
<div class="a" style="left:338.00px;top:167.13px;width:2.00px;height:0.60px;background:#999;"></div>
<div class="o" style="left:329.27px;top:175.03px"><div class="r " style="font-size:7.60px;color:#000;transform:rotate(-90deg) scaleX(1.100) translateX(-50%)">5400</div></div>
<div class="a" style="left:338.00px;top:188.32px;width:2.00px;height:0.60px;background:#999;"></div>
<div class="o" style="left:329.27px;top:196.22px"><div class="r " style="font-size:7.60px;color:#000;transform:rotate(-90deg) scaleX(1.100) translateX(-50%)">5500</div></div>
<div class="a" style="left:338.00px;top:209.51px;width:2.00px;height:0.60px;background:#999;"></div>
<div class="o" style="left:329.27px;top:217.41px"><div class="r " style="font-size:7.60px;color:#000;transform:rotate(-90deg) scaleX(1.100) translateX(-50%)">5600</div></div>
<div class="a" style="left:338.00px;top:230.70px;width:2.00px;height:0.60px;background:#999;"></div>
<div class="o" style="left:329.27px;top:238.60px"><div class="r " style="font-size:7.60px;color:#000;transform:rotate(-90deg) scaleX(1.100) translateX(-50%)">5700</div></div>
<div class="a" style="left:352.44px;top:241.60px;width:0.60px;height:2.00px;background:#999;"></div>
<div class="o" style="left:348.82px;top:246.40px"><div class="r " style="font-size:7.80px;color:#000;transform:rotate(-90deg) scaleX(1.000) translateX(-100%)">6e-15</div></div>
<div class="a" style="left:377.90px;top:241.60px;width:0.60px;height:2.00px;background:#999;"></div>
<div class="o" style="left:374.29px;top:246.40px"><div class="r " style="font-size:7.80px;color:#000;transform:rotate(-90deg) scaleX(1.000) translateX(-100%)">8e-15</div></div>
<div class="a" style="left:403.38px;top:241.60px;width:0.60px;height:2.00px;background:#999;"></div>
<div class="o" style="left:399.76px;top:246.40px"><div class="r " style="font-size:7.80px;color:#000;transform:rotate(-90deg) scaleX(1.000) translateX(-100%)">1e-14</div></div>
<div class="a" style="left:428.84px;top:241.60px;width:0.60px;height:2.00px;background:#999;"></div>
<div class="o" style="left:425.23px;top:246.40px"><div class="r " style="font-size:7.80px;color:#000;transform:rotate(-90deg) scaleX(1.000) translateX(-100%)">3e-14</div></div>
<div class="a" style="left:454.31px;top:241.60px;width:0.60px;height:2.00px;background:#999;"></div>
<div class="o" style="left:450.70px;top:246.40px"><div class="r " style="font-size:7.80px;color:#000;transform:rotate(-90deg) scaleX(1.000) translateX(-100%)">5e-14</div></div>
<div class="a" style="left:479.78px;top:241.60px;width:0.60px;height:2.00px;background:#999;"></div>
<div class="o" style="left:476.17px;top:246.40px"><div class="r " style="font-size:7.80px;color:#000;transform:rotate(-90deg) scaleX(1.000) translateX(-100%)">7e-14</div></div>
<div class="a" style="left:505.25px;top:241.60px;width:0.60px;height:2.00px;background:#999;"></div>
<div class="o" style="left:501.64px;top:246.40px"><div class="r " style="font-size:7.80px;color:#000;transform:rotate(-90deg) scaleX(1.000) translateX(-100%)">9e-14</div></div>
<div class="a" style="left:530.73px;top:241.60px;width:0.60px;height:2.00px;background:#999;"></div>
<div class="o" style="left:527.11px;top:246.40px"><div class="r " style="font-size:7.80px;color:#000;transform:rotate(-90deg) scaleX(1.000) translateX(-100%)">1e-13</div></div>
<div class="a" style="left:556.20px;top:241.60px;width:0.60px;height:2.00px;background:#999;"></div>
<div class="o" style="left:552.58px;top:246.40px"><div class="r " style="font-size:7.80px;color:#000;transform:rotate(-90deg) scaleX(1.000) translateX(-100%)">1.1e-13</div></div>
<div class="a" style="left:581.66px;top:241.60px;width:0.60px;height:2.00px;background:#999;"></div>
<div class="o" style="left:578.05px;top:246.40px"><div class="r " style="font-size:7.80px;color:#000;transform:rotate(-90deg) scaleX(1.000) translateX(-100%)">1.3e-13</div></div>
<div class="t b" style="left:417.20px;top:-0.45px;font-size:7.50px;transform:scaleX(1.116);transform-origin:0 0">Mean discriminator score</div>
<div class="t b" style="left:396.30px;top:273.45px;font-size:7.50px;transform:scaleX(1.128);transform-origin:0 0">Poisson arrival rate of value agents</div>
<div class="o" style="left:320.25px;top:124.65px"><div class="r b" style="font-size:7.50px;color:#000;transform:rotate(-90deg) scaleX(1.120) translateX(-50%)">Number of noise agents</div></div>
<div class="t s" style="left:46.50px;top:289.82px;font-size:18.00px;transform:scaleX(1.000);transform-origin:0 0">(a)</div>
<div class="t s" style="left:85.50px;top:289.82px;font-size:18.00px;transform:scaleX(1.250);transform-origin:0 0"><i>N</i></div>
<div class="a" style="left:118.30px;top:297.97px;width:12.90px;height:0.95px;background:#000;"></div>
<div class="a" style="left:118.30px;top:301.72px;width:12.90px;height:0.95px;background:#000;"></div>
<div class="t s" style="left:137.30px;top:289.82px;font-size:18.00px;transform:scaleX(1.000);transform-origin:0 0">5000,</div>
<div class="t s" style="left:184.50px;top:289.82px;font-size:18.00px;transform:scaleX(1.200);transform-origin:0 0"><i>&#955;</i></div>
<div class="a" style="left:210.20px;top:297.97px;width:13.10px;height:0.95px;background:#000;"></div>
<div class="a" style="left:210.20px;top:301.72px;width:13.10px;height:0.95px;background:#000;"></div>
<div class="t s" style="left:229.50px;top:289.82px;font-size:18.00px;transform:scaleX(1.000);transform-origin:0 0">e</div>
<div class="a" style="left:240.20px;top:299.72px;width:11.30px;height:0.95px;background:#000;"></div>
<div class="t s" style="left:253.30px;top:289.82px;font-size:18.00px;transform:scaleX(1.080);transform-origin:0 0">14</div>
<div class="t s" style="left:367.50px;top:289.82px;font-size:18.00px;transform:scaleX(1.000);transform-origin:0 0">(b)</div>
<div class="t s" style="left:406.50px;top:289.82px;font-size:18.00px;transform:scaleX(1.250);transform-origin:0 0"><i>N</i></div>
<div class="a" style="left:439.30px;top:297.97px;width:12.90px;height:0.95px;background:#000;"></div>
<div class="a" style="left:439.30px;top:301.72px;width:12.90px;height:0.95px;background:#000;"></div>
<div class="t s" style="left:458.30px;top:289.82px;font-size:18.00px;transform:scaleX(1.000);transform-origin:0 0">4800,</div>
<div class="t s" style="left:505.50px;top:289.82px;font-size:18.00px;transform:scaleX(1.200);transform-origin:0 0"><i>&#955;</i></div>
<div class="a" style="left:531.20px;top:297.97px;width:13.10px;height:0.95px;background:#000;"></div>
<div class="a" style="left:531.20px;top:301.72px;width:13.10px;height:0.95px;background:#000;"></div>
<div class="t s" style="left:550.50px;top:289.82px;font-size:18.00px;transform:scaleX(1.000);transform-origin:0 0">e</div>
<div class="a" style="left:561.20px;top:299.72px;width:11.30px;height:0.95px;background:#000;"></div>
<div class="t s" style="left:574.30px;top:289.82px;font-size:18.00px;transform:scaleX(1.080);transform-origin:0 0">13</div>
<svg class="a" style="left:0;top:0" width="640" height="310"><path d="M107.10 290.80L107.10 296.60M109.61 292.25L104.59 295.15M109.61 295.15L104.59 292.25M199.40 291.30L199.40 297.10M201.91 292.75L196.89 295.65M201.91 295.65L196.89 292.75M428.10 290.80L428.10 296.60M430.61 292.25L425.59 295.15M430.61 295.15L425.59 292.25M520.40 291.30L520.40 297.10M522.91 292.75L517.89 295.65M522.91 295.65L517.89 292.75" stroke="#000" stroke-width="0.90" stroke-linecap="round" fill="none"/></svg>
</body></html>
